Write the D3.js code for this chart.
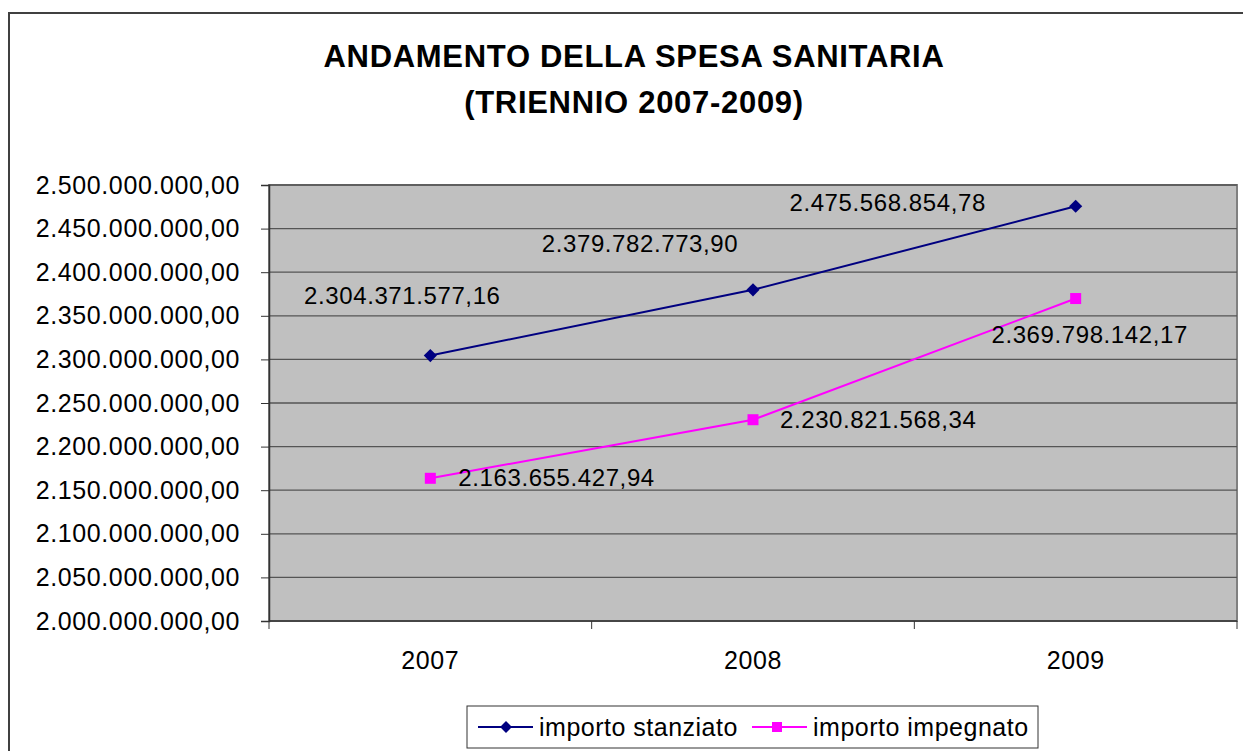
<!DOCTYPE html>
<html>
<head>
<meta charset="utf-8">
<script src="https://cdn.jsdelivr.net/npm/d3@7/dist/d3.min.js"></script>
<style>
  html, body { margin: 0; padding: 0; background: #fff; }
  svg { display: block; font-family: "Liberation Sans", Arial, sans-serif; }
</style>
</head>
<body>
<svg id="chart" width="1243" height="751"></svg>
<script>
// Spesa sanitaria, triennio 2007-2009
const years = ["2007", "2008", "2009"];
const stanziato = [2304371577.16, 2379782773.90, 2475568854.78];
const impegnato = [2163655427.94, 2230821568.34, 2369798142.17];
const seriesNames = ["importo stanziato", "importo impegnato"];
const yTicks = [2000000000, 2050000000, 2100000000, 2150000000, 2200000000,
                2250000000, 2300000000, 2350000000, 2400000000, 2450000000, 2500000000];
const titleLines = ["ANDAMENTO DELLA SPESA SANITARIA", "(TRIENNIO 2007-2009)"];

// label placement relative to each point (dx, dy, anchor)
const stanziatoLabelPos = [[-28, -60, "middle"], [-113, -46, "middle"], [-188, -4, "middle"]];
const impegnatoLabelPos = [[28, -1, "start"], [27, 0, "start"], [14, 36, "middle"]];

const svg = d3.select("#chart");
const W = 1243, H = 751;
const plot = { left: 269, top: 185, right: 1237, bottom: 621 };
const textStyle = sel => sel.attr("font-size", 24).attr("letter-spacing", 0.6).attr("fill", "#000");

// Italian number format: dot thousands, comma decimals
const itLocale = d3.formatLocale({ decimal: ",", thousands: ".", grouping: [3], currency: ["€", ""] });
const fmt = itLocale.format(",.2f");

// outer chart frame
svg.append("rect")
  .attr("x", 9).attr("y", 13)
  .attr("width", W + 20).attr("height", H + 20)
  .attr("fill", "#fff").attr("stroke", "#404040").attr("stroke-width", 2);

// title
svg.append("g").selectAll("text").data(titleLines).join("text")
  .attr("x", 634).attr("y", (d, i) => 67 + i * 46)
  .attr("text-anchor", "middle")
  .attr("font-size", 31).attr("letter-spacing", 0.7).attr("font-weight", "bold").attr("fill", "#000")
  .text(d => d);

const x = d3.scaleBand().domain(years).range([plot.left, plot.right]).paddingInner(0).paddingOuter(0);
const y = d3.scaleLinear().domain([2000000000, 2500000000]).range([plot.bottom, plot.top]);
const cx = d => x(d) + x.bandwidth() / 2;

// plot area
svg.append("rect")
  .attr("x", plot.left).attr("y", plot.top)
  .attr("width", plot.right - plot.left).attr("height", plot.bottom - plot.top)
  .attr("fill", "#C0C0C0").attr("stroke", "#808080").attr("stroke-width", 2);

// gridlines
svg.append("g").selectAll("line").data(yTicks.slice(1)).join("line")
  .attr("x1", plot.left).attr("x2", plot.right)
  .attr("y1", d => y(d)).attr("y2", d => y(d))
  .attr("stroke", "#555").attr("stroke-width", 1.3);

// y axis
const yAxis = d3.axisLeft(y).tickValues(yTicks).tickFormat(fmt).tickSize(8).tickPadding(21);
const gy = svg.append("g").attr("transform", `translate(${plot.left},0)`).call(yAxis);
gy.select(".domain").attr("stroke", "#333").attr("stroke-width", 1.5);
gy.selectAll(".tick line").attr("stroke", "#333");
gy.selectAll(".tick text").call(textStyle).attr("font-size", 25)
  .attr("font-family", "\"Liberation Sans\", Arial, sans-serif");

// x axis: ticks between categories
const gx = svg.append("g").attr("transform", `translate(0,${plot.bottom})`);
gx.append("line").attr("x1", plot.left).attr("x2", plot.right)
  .attr("stroke", "#333").attr("stroke-width", 1.5);
const boundaries = years.map(d => x(d)).concat([x(years[years.length - 1]) + x.bandwidth()]);
gx.selectAll("line.tk").data(boundaries).join("line").attr("class", "tk")
  .attr("x1", d => d).attr("x2", d => d).attr("y1", 0).attr("y2", 8)
  .attr("stroke", "#333").attr("stroke-width", 1);
gx.selectAll("text").data(years).join("text")
  .attr("x", d => cx(d)).attr("y", 39).attr("dy", "0.35em")
  .attr("text-anchor", "middle").call(textStyle).attr("font-size", 25)
  .text(d => d);

const line = d3.line().x((d, i) => cx(years[i])).y(d => y(d));

// series: importo stanziato
svg.append("path").datum(stanziato).attr("d", line)
  .attr("fill", "none").attr("stroke", "#000080").attr("stroke-width", 2);
svg.append("g").selectAll("path").data(stanziato).join("path")
  .attr("d", d3.symbol(d3.symbolDiamond2, 110))
  .attr("transform", (d, i) => `translate(${cx(years[i])},${y(d)})`)
  .attr("fill", "#000080");

// series: importo impegnato
svg.append("path").datum(impegnato).attr("d", line)
  .attr("fill", "none").attr("stroke", "#FF00FF").attr("stroke-width", 2);
svg.append("g").selectAll("rect").data(impegnato).join("rect")
  .attr("x", (d, i) => cx(years[i]) - 5.5).attr("y", d => y(d) - 5.5)
  .attr("width", 11).attr("height", 11)
  .attr("fill", "#FF00FF");

// data labels
function labels(values, pos) {
  svg.append("g").selectAll("text").data(values).join("text")
    .attr("x", (d, i) => cx(years[i]) + pos[i][0])
    .attr("y", (d, i) => y(d) + pos[i][1])
    .attr("dy", "0.35em")
    .attr("text-anchor", (d, i) => pos[i][2])
    .call(textStyle)
    .text(d => fmt(d));
}
labels(stanziato, stanziatoLabelPos);
labels(impegnato, impegnatoLabelPos);

// legend
const lg = svg.append("g");
lg.append("rect").attr("x", 467).attr("y", 706).attr("width", 571).attr("height", 42)
  .attr("fill", "#fff").attr("stroke", "#333").attr("stroke-width", 1);
const legendItems = [
  { name: seriesNames[0], color: "#000080", marker: "diamond", x: 478 },
  { name: seriesNames[1], color: "#FF00FF", marker: "square", x: 752 }
];
legendItems.forEach(it => {
  const g = lg.append("g").attr("transform", `translate(${it.x},727)`);
  g.append("line").attr("x1", 0).attr("x2", 55).attr("stroke", it.color).attr("stroke-width", 2);
  if (it.marker === "diamond") {
    g.append("path").attr("d", d3.symbol(d3.symbolDiamond2, 90)).attr("transform", "translate(28,0)").attr("fill", it.color);
  } else {
    g.append("rect").attr("x", 20).attr("y", -5).attr("width", 10).attr("height", 10).attr("fill", it.color);
  }
  g.append("text").attr("x", 61).attr("dy", "0.35em").call(textStyle).attr("font-size", 25)
    .attr("letter-spacing", 0.5).text(it.name);
});
</script>
</body>
</html>
